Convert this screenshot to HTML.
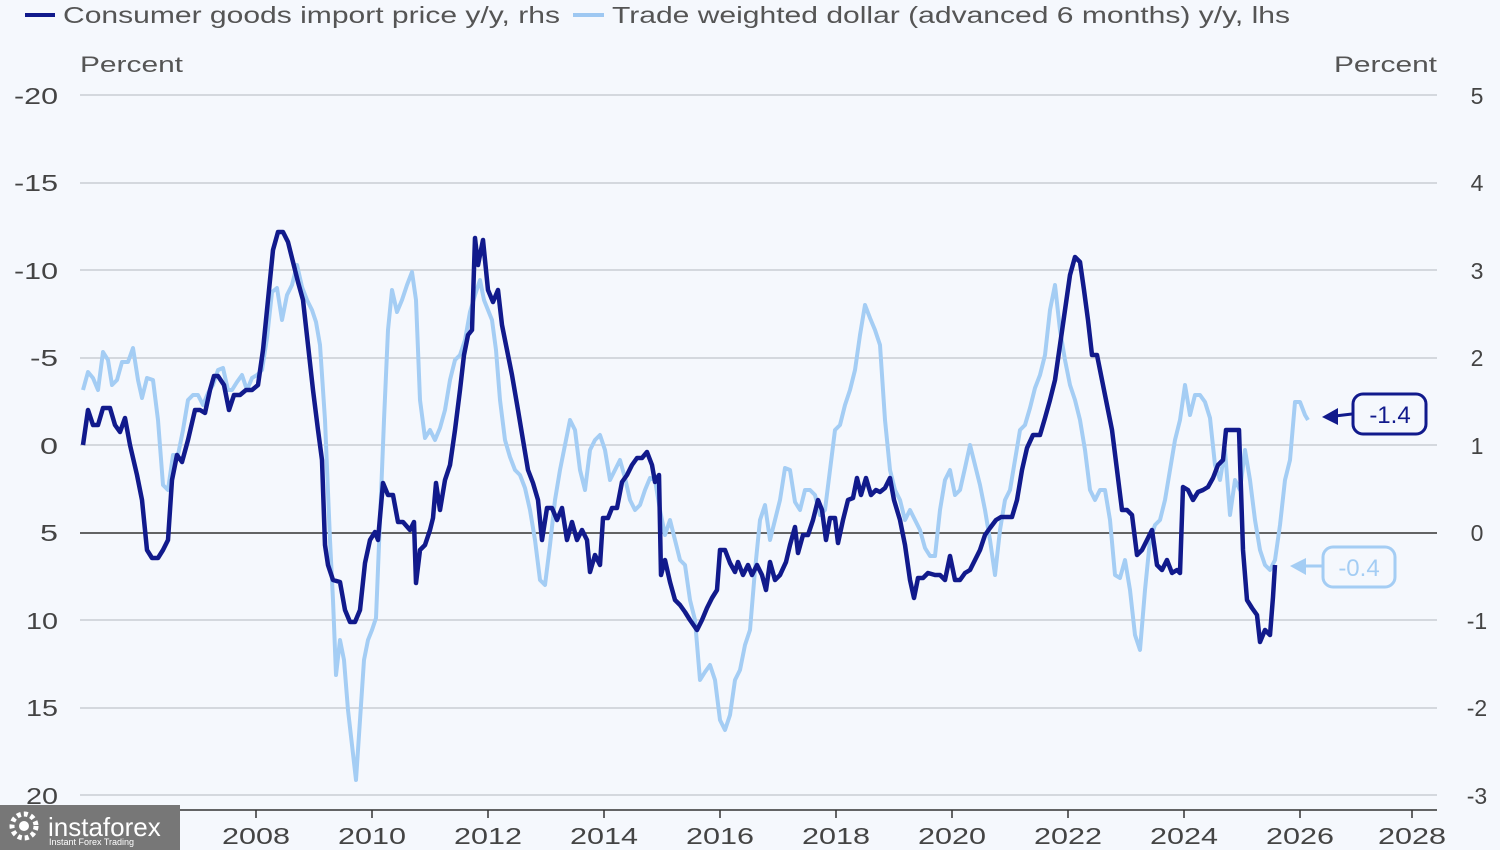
<!DOCTYPE html>
<html><head><meta charset="utf-8"><style>
html,body{margin:0;padding:0;background:#f5f8fd;}
svg{display:block;font-family:"Liberation Sans",sans-serif;}
</style></head><body>
<svg width="1500" height="850" viewBox="0 0 1500 850">
<rect width="1500" height="850" fill="#f5f8fd"/>
<line x1="25" y1="15" x2="55" y2="15" stroke="#111a8c" stroke-width="4"/>
<text x="63" y="23" font-size="23" fill="#555" textLength="497" lengthAdjust="spacingAndGlyphs">Consumer goods import price y/y, rhs</text>
<line x1="573" y1="15" x2="604" y2="15" stroke="#9ec8f2" stroke-width="4"/>
<text x="612" y="23" font-size="23" fill="#555" textLength="678" lengthAdjust="spacingAndGlyphs">Trade weighted dollar (advanced 6 months) y/y, lhs</text>
<text x="80" y="72" font-size="22" fill="#555" textLength="103" lengthAdjust="spacingAndGlyphs">Percent</text>
<text x="1334" y="72" font-size="22" fill="#555" textLength="103" lengthAdjust="spacingAndGlyphs">Percent</text>
<g stroke="#c9cdd3" stroke-width="1.5">
<line x1="80" y1="95" x2="1437" y2="95"/>
<line x1="80" y1="183" x2="1437" y2="183"/>
<line x1="80" y1="270" x2="1437" y2="270"/>
<line x1="80" y1="358" x2="1437" y2="358"/>
<line x1="80" y1="445" x2="1437" y2="445"/>
<line x1="80" y1="620" x2="1437" y2="620"/>
<line x1="80" y1="708" x2="1437" y2="708"/>
<line x1="80" y1="795" x2="1437" y2="795"/>
</g>
<line x1="80" y1="533" x2="1437" y2="533" stroke="#333" stroke-width="1.5"/>
<line x1="80" y1="810" x2="1437" y2="810" stroke="#333" stroke-width="1.5"/>
<g stroke="#333" stroke-width="1.5">
<line x1="140" y1="810" x2="140" y2="818"/><line x1="256" y1="810" x2="256" y2="818"/><line x1="372" y1="810" x2="372" y2="818"/><line x1="488" y1="810" x2="488" y2="818"/><line x1="604" y1="810" x2="604" y2="818"/><line x1="720" y1="810" x2="720" y2="818"/><line x1="836" y1="810" x2="836" y2="818"/><line x1="952" y1="810" x2="952" y2="818"/><line x1="1068" y1="810" x2="1068" y2="818"/><line x1="1184" y1="810" x2="1184" y2="818"/><line x1="1300" y1="810" x2="1300" y2="818"/><line x1="1412" y1="810" x2="1412" y2="818"/>
</g>
<g font-size="23" fill="#444">
<text x="14" y="104" textLength="44" lengthAdjust="spacingAndGlyphs">-20</text>
<text x="14" y="191" textLength="44" lengthAdjust="spacingAndGlyphs">-15</text>
<text x="14" y="279" textLength="44" lengthAdjust="spacingAndGlyphs">-10</text>
<text x="30" y="366" textLength="28" lengthAdjust="spacingAndGlyphs">-5</text>
<text x="40" y="454" textLength="18" lengthAdjust="spacingAndGlyphs">0</text>
<text x="40" y="541" textLength="18" lengthAdjust="spacingAndGlyphs">5</text>
<text x="26" y="629" textLength="32" lengthAdjust="spacingAndGlyphs">10</text>
<text x="26" y="716" textLength="32" lengthAdjust="spacingAndGlyphs">15</text>
<text x="26" y="804" textLength="32" lengthAdjust="spacingAndGlyphs">20</text>
</g>
<g font-size="23" fill="#444" text-anchor="middle">
<text x="1477" y="104">5</text><text x="1477" y="191">4</text><text x="1477" y="279">3</text><text x="1477" y="366">2</text><text x="1477" y="454">1</text><text x="1477" y="541">0</text><text x="1477" y="629">-1</text><text x="1477" y="716">-2</text><text x="1477" y="804">-3</text>
</g>
<g font-size="23" fill="#444">
<text x="106" y="844" textLength="68" lengthAdjust="spacingAndGlyphs">2006</text>
<text x="222" y="844" textLength="68" lengthAdjust="spacingAndGlyphs">2008</text>
<text x="338" y="844" textLength="68" lengthAdjust="spacingAndGlyphs">2010</text>
<text x="454" y="844" textLength="68" lengthAdjust="spacingAndGlyphs">2012</text>
<text x="570" y="844" textLength="68" lengthAdjust="spacingAndGlyphs">2014</text>
<text x="686" y="844" textLength="68" lengthAdjust="spacingAndGlyphs">2016</text>
<text x="802" y="844" textLength="68" lengthAdjust="spacingAndGlyphs">2018</text>
<text x="918" y="844" textLength="68" lengthAdjust="spacingAndGlyphs">2020</text>
<text x="1034" y="844" textLength="68" lengthAdjust="spacingAndGlyphs">2022</text>
<text x="1150" y="844" textLength="68" lengthAdjust="spacingAndGlyphs">2024</text>
<text x="1266" y="844" textLength="68" lengthAdjust="spacingAndGlyphs">2026</text>
<text x="1378" y="844" textLength="68" lengthAdjust="spacingAndGlyphs">2028</text>
</g>
<polyline fill="none" stroke="#a4cdf4" stroke-width="4" stroke-linejoin="round" points="83,390 88,372 93,378 98,390 103,352 108,360 112,385 117,380 122,362 128,362 133,348 138,380 142,398 147,378 153,380 158,420 163,485 168,490 173,455 178,455 183,430 188,400 193,395 198,395 203,405 208,393 213,385 218,370 223,368 228,390 232,390 237,382 242,375 247,390 252,378 257,375 262,370 267,338 272,292 277,288 282,320 287,295 292,285 297,265 302,287 307,300 312,310 316,322 320,345 325,420 330,540 333,600 336,675 340,640 344,660 348,710 352,745 356,780 360,720 364,660 368,640 372,630 376,618 380,520 384,420 388,330 392,290 397,312 402,300 407,285 412,272 416,300 420,400 425,438 430,430 435,440 440,428 445,410 450,380 455,360 460,355 465,340 470,312 475,295 480,280 484,300 488,310 492,320 496,350 500,400 505,440 510,457 515,470 520,475 525,488 530,510 535,540 540,580 545,585 550,545 555,500 560,470 565,445 570,420 575,430 580,470 585,490 590,450 595,440 600,435 605,450 610,480 615,470 620,460 625,478 630,500 635,510 640,505 645,490 650,478 655,480 660,510 665,535 670,520 675,540 680,560 685,565 690,600 695,620 700,680 705,672 710,665 715,680 720,720 725,730 730,715 735,680 740,670 745,645 750,630 755,570 760,520 765,505 770,540 775,520 780,500 785,468 790,470 795,502 800,510 805,490 810,490 815,495 820,515 825,510 830,470 835,430 840,425 845,405 850,390 855,370 860,335 865,305 870,318 875,330 880,345 885,420 890,470 895,490 900,500 905,520 910,510 915,520 920,530 925,548 930,556 935,556 940,510 945,480 950,470 955,495 960,490 965,468 970,445 975,465 980,485 985,510 990,540 995,575 1000,530 1005,500 1010,490 1015,460 1020,430 1025,425 1030,408 1035,388 1040,375 1045,355 1050,310 1055,285 1060,330 1065,360 1070,385 1075,400 1080,420 1085,450 1090,490 1095,500 1100,490 1105,490 1110,520 1115,575 1120,578 1125,560 1130,590 1135,635 1140,650 1145,590 1150,540 1155,525 1160,520 1165,500 1170,470 1175,440 1180,420 1185,385 1190,415 1195,395 1200,395 1205,402 1210,418 1215,465 1220,480 1225,450 1230,515 1235,480 1240,490 1245,450 1250,480 1255,520 1260,550 1265,565 1270,570 1275,560 1280,525 1285,480 1290,460 1295,402 1300,402 1305,415 1308,420"/>
<polyline fill="none" stroke="#111a8c" stroke-width="4.5" stroke-linejoin="round" points="83,445 88,410 93,425 98,425 103,408 110,408 115,425 120,432 125,418 130,445 137,475 142,500 147,550 152,558 158,558 163,550 168,540 172,480 177,455 182,462 188,440 195,410 200,410 205,413 210,390 214,376 218,376 224,385 229,410 234,395 240,395 246,390 252,390 258,385 263,350 268,300 273,250 278,232 283,232 288,242 293,262 298,282 303,300 308,345 313,390 318,430 322,460 325,545 328,565 333,580 340,582 345,610 350,622 355,622 360,610 365,563 370,540 375,532 378,540 383,483 388,495 393,495 398,522 403,522 410,530 414,522 416,583 420,550 425,545 430,530 433,518 436,483 440,510 445,480 450,465 455,430 460,390 464,355 468,335 472,330 475,238 478,265 483,240 488,290 493,302 498,290 502,325 507,350 512,375 518,410 523,440 528,470 533,483 538,500 542,540 547,508 552,508 557,520 562,508 567,540 572,522 577,540 582,530 587,540 590,572 595,555 600,565 603,518 608,518 612,508 617,508 622,482 627,475 632,465 637,458 642,458 647,452 652,465 655,482 659,475 661,575 665,560 670,582 675,600 680,605 685,612 690,620 697,630 702,620 707,608 712,598 717,590 720,550 725,550 730,563 735,572 738,562 743,575 748,565 752,575 757,565 762,575 766,590 770,562 775,580 780,575 786,562 790,545 795,527 798,553 803,535 808,535 813,520 818,500 822,510 826,540 830,518 835,518 838,543 843,520 848,500 853,498 857,478 861,495 866,478 871,495 876,490 880,492 885,488 890,478 894,500 900,520 905,545 910,580 914,598 918,578 923,578 928,573 935,575 940,575 945,580 950,556 955,580 960,580 965,573 970,570 975,560 980,550 985,535 990,528 996,520 1001,517 1006,517 1012,517 1017,500 1022,470 1027,448 1033,435 1040,435 1045,418 1050,400 1055,380 1060,345 1065,310 1070,275 1075,257 1080,262 1084,290 1088,320 1092,355 1097,355 1102,380 1107,405 1112,430 1117,470 1122,510 1127,510 1132,515 1137,555 1142,550 1147,540 1152,530 1157,565 1162,570 1167,560 1172,573 1177,570 1180,573 1183,487 1188,490 1193,500 1198,492 1203,490 1208,487 1213,478 1218,465 1223,460 1226,430 1230,430 1239,430 1243,550 1247,600 1252,608 1257,615 1260,642 1265,630 1270,635 1273,597 1275,565"/>
<line x1="1335" y1="416" x2="1352" y2="414" stroke="#111a8c" stroke-width="3"/>
<polygon points="1322,417 1338,408 1338,425" fill="#111a8c"/>
<rect x="1353" y="394" width="73" height="40" rx="10" fill="#f5f8fd" stroke="#111a8c" stroke-width="3"/>
<text x="1390" y="423" font-size="24" fill="#111a8c" text-anchor="middle">-1.4</text>
<line x1="1305" y1="566" x2="1323" y2="566" stroke="#a4cdf4" stroke-width="3"/>
<polygon points="1290,566 1306,558 1306,575" fill="#a4cdf4"/>
<rect x="1323" y="547" width="72" height="40" rx="10" fill="#f5f8fd" stroke="#a4cdf4" stroke-width="3"/>
<text x="1359" y="576" font-size="24" fill="#a4cdf4" text-anchor="middle">-0.4</text>
<rect x="0" y="805" width="180" height="45" fill="#777"/>
<circle cx="24" cy="826" r="12" fill="none" stroke="#fff" stroke-width="5" stroke-dasharray="4 3"/>
<circle cx="24" cy="826" r="5" fill="#fff"/>
<text x="48" y="836" font-size="26" fill="#fff">instaforex</text>
<text x="49" y="845" font-size="9" fill="#fff">Instant Forex Trading</text>
</svg>
</body></html>
